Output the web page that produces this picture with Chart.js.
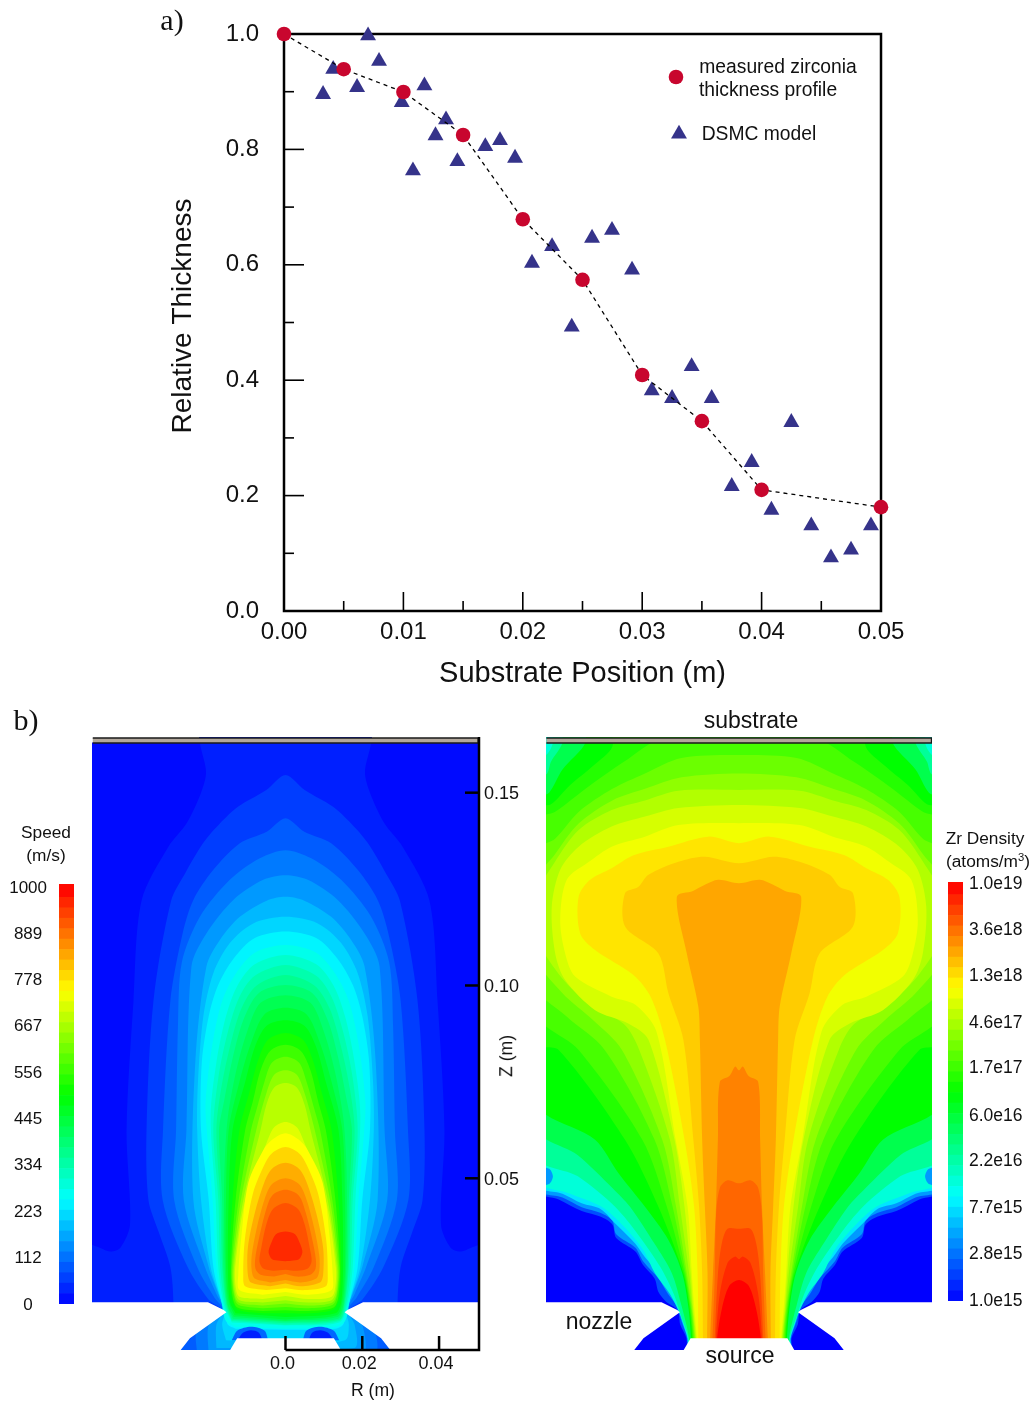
<!DOCTYPE html>
<html>
<head>
<meta charset="utf-8">
<title>Zirconia thickness profile</title>
<script src="https://cdn.jsdelivr.net/npm/chart.js@4/dist/chart.umd.js"></script>
<style>
  html, body { margin: 0; padding: 0; background: #fff; }
  #page { position: relative; width: 1036px; height: 1404px; overflow: hidden; font-family: "Liberation Sans", Arial, sans-serif; color: #111; }
  canvas { position: absolute; left: 0; top: 0; }
  #densityMap { filter: blur(0.5px); }
  .t { position: absolute; white-space: nowrap; line-height: 1; transform: translate(-50%, -50%); }
  .t sup { font-size: 0.65em; line-height: 0; }
</style>
</head>
<body>
<div id="page">
  <canvas id="speedMap" width="1036" height="1404"></canvas>
  <canvas id="densityMap" width="1036" height="1404"></canvas>
  <canvas id="speedBar" width="1036" height="1404"></canvas>
  <canvas id="densityBar" width="1036" height="1404"></canvas>
  <canvas id="profile" width="1036" height="700"></canvas>

  <div class="t" style="left:172px;top:20px;font:30px 'Liberation Serif',serif">a)</div>
  <div class="t" style="left:26px;top:720px;font:30px 'Liberation Serif',serif">b)</div>
  <div class="t" style="left:778px;top:67px;font-size:19.3px">measured zirconia</div>
  <div class="t" style="left:768px;top:90px;font-size:19.3px">thickness profile</div>
  <div class="t" style="left:759px;top:134px;font-size:19.3px">DSMC model</div>
  <div class="t" style="left:46px;top:833px;font-size:17.3px">Speed</div>
  <div class="t" style="left:46px;top:856px;font-size:17.3px">(m/s)</div>
  <div class="t" style="left:985px;top:839px;font-size:17.3px">Zr Density</div>
  <div class="t" style="left:988px;top:862px;font-size:17.3px">(atoms/m<sup>3</sup>)</div>
  <div class="t" style="left:751px;top:720px;font-size:23px">substrate</div>
  <div class="t" style="left:599px;top:1321px;font-size:23px">nozzle</div>
  <div class="t" style="left:740px;top:1355px;font-size:23px">source</div>
  <div class="t" style="left:373px;top:1391px;font-size:17.6px">R (m)</div>
  <div class="t" style="left:507px;top:1056px;font-size:17.6px;transform:translate(-50%,-50%) rotate(-90deg)">Z (m)</div>
</div>

<script>
// a) thickness profile
const measuredX = [0, 0.005, 0.01, 0.015, 0.02, 0.025, 0.03, 0.035, 0.04, 0.05];
const measuredY = [1.0, 0.939, 0.8995, 0.825, 0.679, 0.574, 0.409, 0.329, 0.21, 0.18];
const modelX = [0.00327, 0.00412, 0.00612, 0.00704, 0.00796, 0.00986, 0.01080, 0.01176, 0.01269, 0.01357, 0.01452, 0.01686, 0.01809, 0.01935,
  0.02077, 0.02245, 0.0241, 0.0258, 0.02747, 0.02915, 0.0308, 0.0325, 0.03414, 0.03582, 0.0375, 0.03917, 0.04082, 0.04249, 0.04416, 0.04581, 0.04749, 0.04916];
const modelY = [0.8955, 0.939, 0.9076, 0.997, 0.953, 0.8816, 0.763, 0.9105, 0.824, 0.8516, 0.779, 0.805, 0.8157, 0.785,
  0.603, 0.632, 0.4925, 0.6464, 0.66, 0.591, 0.382, 0.3686, 0.424, 0.3686, 0.2161, 0.2577, 0.175, 0.327, 0.148, 0.0925, 0.1057, 0.148];
const profileXTicks = [0, 0.005, 0.01, 0.015, 0.02, 0.025, 0.03, 0.035, 0.04, 0.045, 0.05];
const profileXLabels = ['0.00', '', '0.01', '', '0.02', '', '0.03', '', '0.04', '', '0.05'];
const profileYTicks = [0, 0.1, 0.2, 0.3, 0.4, 0.5, 0.6, 0.7, 0.8, 0.9, 1.0];
const profileYLabels = ['0.0', '', '0.2', '', '0.4', '', '0.6', '', '0.8', '', '1.0'];

// b) colour bars
const speedBarTicks = [0, 112, 223, 334, 445, 556, 667, 778, 889, 1000];
const speedBands = [0, 25, 50, 75, 100, 125, 150, 175, 200, 225, 250, 275, 300, 325, 350, 375, 400, 425, 450, 475, 500,
  525, 550, 575, 600, 625, 650, 675, 700, 725, 750, 775, 800, 825, 850, 875, 900, 925, 950, 975, 1007];
const densityBarTicks = [1e15, 2.8e15, 7.7e15, 2.2e16, 6.0e16, 1.7e17, 4.6e17, 1.3e18, 3.6e18, 1.0e19];
const densityBarLabels = ['1.0e15', '2.8e15', '7.7e15', '2.2e16', '6.0e16', '1.7e17', '4.6e17', '1.3e18', '3.6e18', '1.0e19'];
const densityBands = [15, 15.1, 15.2, 15.3, 15.4, 15.5, 15.6, 15.7, 15.8, 15.9, 16, 16.1, 16.2, 16.3, 16.4, 16.5, 16.6, 16.7, 16.8, 16.9, 17,
  17.1, 17.2, 17.3, 17.4, 17.5, 17.6, 17.7, 17.8, 17.9, 18, 18.1, 18.2, 18.3, 18.4, 18.5, 18.6, 18.7, 18.8, 18.9, 19.02];

// b) axes of the left map
const rTicks = [0, 0.02, 0.04];
const rLabels = ['0.0', '0.02', '0.04'];
const zTicks = [0.05, 0.10, 0.15];
const zLabels = ['0.05', '0.10', '0.15'];

// Contours are half outlines (R, z) in mm, low level first, mirrored about R = 0 when drawn
const speedLevels = [30, 60, 90, 120, 150, 180, 210, 240, 270, 300, 330, 360, 390, 420, 450, 480, 520, 560, 600, 640, 680, 720, 750, 790, 830, 860, 890, 920, 960];
const speedOutlines = [
  [[0,170],[22.3,170],[22.3,163],[20.7,155.4],[22,150],[25.8,142],[30.5,136],[37.5,122],[39.6,96],[41.4,62.5],[40.5,38],[43,32],[45.7,31],[49.2,32.3],[53,33],[53,4],[0,4]],
  [[0,154.6],[5,150.7],[12.3,146.4],[17.1,142],[21.4,137],[26.2,129],[29.8,122],[34.4,96],[36.2,62.5],[35.7,44.4],[33,36],[30,27],[29.2,18],[29.2,4],[0,4]],
  [[0,143.4],[4.9,139.9],[11.9,136.9],[18.8,130],[24,122.2],[26.8,113.5],[30,96],[31.9,62.5],[32,44.4],[25.5,27],[20,18.5],[17,16],[32,10],[32,4],[0,4]],
  [[0,135.1],[6.7,133],[14.5,127.4],[22.3,117.8],[27,106],[28,90],[28.5,62.5],[29,44.4],[23,27],[18.5,19],[16.5,16],[23,11],[23,4],[0,4]],
  [[0,128.6],[5.8,127.4],[13.6,122.2],[20.6,113.5],[24.5,104.9],[25.8,62.5],[26.5,44.4],[21,27],[18,20],[16.3,16],[20,12],[20,4],[0,4]],
  [[0,123],[4.9,122],[11.9,117.8],[17.1,111.8],[20.6,104.9],[23.5,80],[24,44.4],[20,27],[17.5,20],[16.1,16],[18,12],[18,6],[0,6]],
  [[0,117.8],[8.4,116.1],[14.5,111],[18.8,103.2],[21.4,92],[22.8,75],[23,62.5],[22,44.4],[19.5,27],[17,19],[15.8,15.5],[16.5,12],[15.5,8],[0,7]],
  [[0,114],[8,112.3],[13.5,107],[17.6,100],[20,92],[21.8,80],[22,62.5],[20,44.4],[18.8,27],[16.5,17.5],[15.7,15],[15,12],[13,11],[0,10.7]],
  [[0,110.5],[8,108.5],[13,103],[16.5,96],[19,85],[20.8,70],[20.5,62.5],[19,44.4],[18,27],[16.5,17],[15.5,13],[13,11.5],[0,11]],
  [[0,107.9],[8,105.5],[12.5,100],[15.5,92],[18,80],[19.5,66],[18.2,44.4],[17.5,27],[16,17],[14,12.6],[0,11.8]],
  [[0,105.3],[8,102.5],[12,97],[15,88],[17.5,76],[18.8,62.5],[17.5,44.4],[17,27],[15.7,17],[14,13],[0,12]],
  [[0,102.7],[7.5,100],[11.5,94],[14.5,84],[16.8,73],[18,62.5],[17,44.4],[16.5,27],[15.4,17],[14,13.3],[0,12.4]],
  [[0,100.1],[7,98],[11,91],[13.8,81],[16,70],[17.3,62.5],[16.5,44.4],[16.2,27],[15.2,17],[13.7,13.6],[0,12.8]],
  [[0,97.5],[6.5,95.5],[10,88],[12.8,78],[15,66],[15.8,55],[16,44.4],[15.8,27],[15,17],[13.5,14],[0,13]],
  [[0,94.2],[5.5,92.5],[9,85],[12,75],[14.8,62.5],[15.5,44.4],[15.5,27],[14.8,18],[13.3,14.5],[0,13.4]],
  [[0,91],[5,89.5],[8,84],[10.5,75],[13.8,62.5],[14.8,44.4],[15,27],[14.5,18],[13,15],[0,14]],
  [[0,87.7],[4.5,86],[7,81],[9.5,72],[12,62.5],[13.8,44.4],[14.5,27],[14,19],[12.5,16],[6,15],[0,15]],
  [[0,84.6],[4,83],[6.5,78],[8.5,70],[10.5,62.5],[13,44.4],[14.2,27],[13.8,19.5],[12.5,16.5],[6,15.6],[0,15.8]],
  [[0,81.5],[3.5,80],[5.5,75],[7.5,68],[9,62.5],[12.2,44.4],[14,27],[13.5,20],[12.3,17.2],[6,16.3],[0,16.6]],
  [[0,78],[3,76.8],[5,72],[7.5,63],[11.6,44.4],[13.7,27],[13.4,20.5],[12.2,17.8],[6,17],[0,17.5]],
  [[0,74.7],[3,73.5],[5,69],[6.5,62.5],[11,44.4],[13.4,27],[13.2,21],[12,18.4],[6,17.8],[0,18.4]],
  [[0,64.6],[3,63.2],[5,59],[10.5,44.4],[13.1,27],[13,22],[12,19.3],[6,18.7],[0,19.5]],
  [[0,61.7],[3.5,60],[5.8,57.3],[9.7,48.8],[11.5,34.8],[12.3,25],[12,21],[6,19.8],[0,20.5]],
  [[0,58.1],[3.5,56.5],[5.5,53.5],[8.5,46],[10.6,34],[11,25],[10.5,22],[5,21],[0,21.5]],
  [[0,54],[3.5,52.5],[5.5,49],[8,41],[9.8,32],[9.8,25],[9,23],[4,22],[0,22.7]],
  [[0,50],[3.5,48.5],[5.5,44.4],[7.5,37],[8.8,30],[8.8,26],[8,24],[4,23],[0,23.6]],
  [[0,47],[3.5,45.5],[5.3,41],[7,34],[7.9,29],[7.8,26.5],[6.5,25],[3,24.5],[0,25.2]],
  [[0,43.6],[3.3,42],[5,38],[6.3,32],[6.8,28.5],[5.8,26.6],[3,26],[0,26.3]],
  [[0,36.2],[2.5,35.5],[3.8,33],[4.4,30.8],[3.5,29],[1.5,28.6],[0,28.5]]
];
// dark pockets above the source, one each side
const speedPocketLevels = [100, 30];
const speedPockets = [
  [[4.5,8],[5.5,10.5],[9,11.5],[12.5,10.5],[14,8]],
  [[6,8],[7,10],[9,10.6],[11,10],[12.5,8]]
];

const densityLevels = [15.3, 15.6, 15.9, 16.15, 16.4, 16.7, 17, 17.14, 17.28, 17.42, 17.56, 17.7, 17.84, 17.95, 18.1, 18.2, 18.35, 18.49, 18.6, 18.72, 18.84, 19];
const densityOutlines = [
  [[0,170],[53,170],[53,47],[47,44.5],[41,41.5],[36,40],[33,38],[32,34.5],[27,31],[25,27.5],[22,24],[21,20.5],[19,18],[16,15.8],[15.3,12],[13.7,8.5],[13.7,4],[0,4]],
  [[0,170],[53,170],[53,47.5],[46,45],[41,42.5],[36,41],[33,39],[32,35.5],[27,32],[25,28.5],[21,24],[18.5,20],[16.3,17],[15,13],[13.5,8.5],[13.5,4],[0,4]],
  [[0,170],[53,170],[53,48.5],[46,46],[41,43.5],[36,42],[32,38],[27,33],[24.5,29.5],[20.5,25],[18,21],[16,17.5],[14.8,13],[13.4,8.5],[13.4,4],[0,4]],
  [[0,170],[53,170],[53,50],[44,46],[35.8,42.6],[30,37.5],[25,31.5],[21.9,25.4],[18,20],[15.5,15],[13.3,8.5],[13.3,4],[0,4]],
  [[0,170],[48.5,170],[48.5,163],[50,160],[53,158],[53,56],[42,50.5],[32.3,42.6],[26,35],[20.5,27],[17,20],[15,14],[13.2,8.5],[13.2,4],[0,4]],
  [[0,170],[46,170],[46,163],[49,158],[50,155],[53,153],[53,63.4],[42,56],[33,47.5],[28.4,42.6],[22,33],[17.5,25.4],[15,17],[13,8.5],[13,4],[0,4]],
  [[0,170],[40,170],[40,163],[46,156],[49.5,150],[53,148],[53,70],[37.5,60],[31.4,51.3],[24.5,42.6],[18.4,34],[14.8,25.4],[13.2,16.7],[12.5,8.5],[12.5,4],[0,4]],
  [[0,170],[33,170],[33,162],[38,157],[44,152],[49,147],[53,146],[53,85],[47,83.3],[29.7,60],[21,42.6],[14.5,25.4],[13,17],[12.2,8.5],[12.2,4],[0,4]],
  [[0,164],[20,164],[30,158],[40,151],[48,145],[53,143],[53,93],[41.8,83.3],[25.2,60],[18.8,42.6],[14.2,25.4],[12.8,17],[12,8.5],[12,4],[0,4]],
  [[0,159.8],[15,159],[24.5,155],[33,151],[41.8,145],[48,138],[53,135],[53,100],[45,92],[35,83.3],[22,60],[17.3,42.6],[13.9,25.4],[12.6,17],[11.8,8.5],[11.8,4],[0,4]],
  [[0,155],[15,154],[24.5,151],[33,148],[41.8,142],[48,134],[53,127],[53,107.5],[46,98],[38,91],[30.5,83.3],[20,60],[16.4,42.6],[13.6,25.4],[12.4,17],[11.6,8.5],[11.6,4],[0,4]],
  [[0,150.7],[15.8,150.5],[24.5,148],[33.2,145.5],[41.8,140.3],[48,132],[53,123],[53,113],[47,103],[40,96],[30,90],[26,83.3],[18,60],[15.4,42.6],[13,25.4],[12.2,17],[11.4,8.5],[11.4,4],[0,4]],
  [[0,146.8],[15.8,146],[24.5,143.8],[33.2,141.2],[41.8,136],[46.6,130],[48.8,120.4],[47.9,108.3],[45.3,101.4],[37.5,93.6],[29,90.2],[23.6,85.9],[16.8,60],[14.2,42.6],[12.6,25.4],[12,17],[11.2,8.5],[11.2,4],[0,4]],
  [[0,142.1],[15.8,141.6],[24.5,138.6],[33.2,136],[39.2,132],[44.9,127.4],[46.6,117],[45.3,108.3],[42.7,102.3],[33.2,97.1],[27,95],[21.5,88],[16.5,60],[13.4,42.6],[12.3,25.4],[11.7,17],[11,8.5],[11,4],[0,4]],
  [[0,136.9],[8,138.6],[18.4,136],[27.5,133.8],[33.2,130.4],[38.8,127.4],[41.8,123],[41.4,113.5],[37.5,109.2],[27.5,102.7],[23,97],[19.3,85.9],[14.2,60],[11.7,42.6],[10.8,25.4],[10.6,8.5],[10.6,4],[0,4]],
  [[0,131.7],[8.9,133.4],[15.8,132.1],[23.6,128.7],[26.2,125.6],[29.7,123.9],[29.7,115.3],[21,108.3],[18.4,98],[14.5,85.9],[11.9,60],[10.4,42.6],[9.6,25.4],[9.4,8.5],[9.4,4],[0,4]],
  [[0,126.5],[5.4,127.4],[8.9,126.1],[12,124.5],[16.2,123],[13.6,108.3],[10.6,94.5],[10.2,85.9],[9.6,60],[8.9,42.6],[8.2,25.4],[8.3,8.5],[8.3,4],[0,4]],
  [[0,78],[1,79],[2.5,76.5],[5,75],[5.5,60],[6,42.6],[6.8,25],[7.5,8.5],[7.5,4],[0,4]],
  [[0,48.7],[3,49.5],[5,47.5],[6,40],[6.3,25],[6.9,8.5],[6.9,4],[0,4]],
  [[0,36.9],[3,36.9],[4.5,33],[5.5,25],[6.3,8.5],[6.3,4],[0,4]],
  [[0,29],[1,29.7],[3,28],[5,20],[6,8.5],[6,4],[0,4]],
  [[0,23.6],[2.6,22],[4.5,16],[5.7,8.5],[5.7,4],[0,4]]
];
const densityPocketLevels = [15.6];
const densityPockets = [
  [[53,53],[49.5,52.5],[48.5,50.5],[49.5,48.5],[53,48]]
];

// Nozzle walls and substrate plate, same mm units
const wallOutline = [[-54,17.84],[-20.2,17.84],[-16.1,15.85],[-15.4,15.24],[-24.9,8.5],[-27.3,5.47],[-27.3,3],[-54,3]];
const sourceOutline = [[-14.7,5],[-12.6,8.5],[12.6,8.5],[14.7,5]];
const plateOutline = [[-50.2,162.9],[50.2,162.9],[50.2,164.2],[-50.2,164.2]];

function rainbow(t) {
  t = Math.min(1, Math.max(0, t));
  const c = v => Math.round(255 * v);
  if (t < 0.25) return `rgb(0,${c(t * 4)},255)`;
  if (t < 0.5) return `rgb(0,255,${c(1 - (t - 0.25) * 4)})`;
  if (t < 0.75) return `rgb(${c((t - 0.5) * 4)},255,0)`;
  return `rgb(255,${c(1 - (t - 0.75) * 4)},0)`;
}

function toPoints(pts) {
  return pts.map(p => ({ x: p[0] / 1000, y: p[1] / 1000 }));
}
// left side bottom-to-top, then right side, so the spline stays smooth over the apex
function mirrored(half) {
  const other = half.slice().reverse().filter(p => p[0] !== 0).map(p => [-p[0], p[1]]);
  return other.concat(half);
}
function shape(pts, color, extra) {
  return Object.assign({
    type: 'scatter', data: toPoints(pts), showLine: true, fill: 'shape', backgroundColor: color,
    borderWidth: 0, borderColor: color, pointRadius: 0, pointHoverRadius: 0, tension: 0.3
  }, extra || {});
}

function buildMap(levels, outlines, pocketLevels, pockets, colorOf, baseColor) {
  const sets = [shape([[-54, 3], [54, 3], [54, 163], [-54, 163]], baseColor, { tension: 0 })];
  outlines.forEach((half, i) => sets.push(shape(mirrored(half), colorOf(levels[i]))));
  pockets.forEach((half, i) => {
    sets.push(shape(half, colorOf(pocketLevels[i])));
    sets.push(shape(half.map(p => [-p[0], p[1]]), colorOf(pocketLevels[i])));
  });
  sets.push(shape(wallOutline, '#fff', { tension: 0 }));
  sets.push(shape(wallOutline.map(p => [-p[0], p[1]]), '#fff', { tension: 0 }));
  sets.push(shape(sourceOutline, '#fff', { tension: 0 }));
  sets.push(shape(plateOutline, '#b3a89c', { tension: 0, borderWidth: 1.6, borderColor: '#1a1a1a' }));
  sets.forEach((s, i) => { s.order = sets.length - i; });
  return sets;
}

const baseOptions = {
  responsive: false,
  animation: false,
  events: [],
  plugins: { legend: { display: false }, tooltip: { enabled: false } }
};
const noGrid = { display: false, drawTicks: false };
const inkColor = '#111';

// ---- a) profile
const inwardTicks = {
  id: 'inwardTicks',
  beforeDraw(chart) {
    // axis title sits a little above the middle of the axis in the original
    chart.scales.y.bottom = chart.chartArea.bottom - 13;
  },
  beforeDatasetsDraw(chart) {
    const { ctx, chartArea: a, scales: { x, y } } = chart;
    ctx.save();
    ctx.strokeStyle = '#000';
    ctx.lineWidth = 1.6;
    profileXTicks.forEach((v, i) => {
      const px = x.getPixelForValue(v), len = profileXLabels[i] ? 19 : 10;
      ctx.beginPath(); ctx.moveTo(px, a.bottom); ctx.lineTo(px, a.bottom - len); ctx.stroke();
    });
    profileYTicks.forEach((v, i) => {
      const py = y.getPixelForValue(v), len = profileYLabels[i] ? 20 : 10;
      ctx.beginPath(); ctx.moveTo(a.left, py); ctx.lineTo(a.left + len, py); ctx.stroke();
    });
    ctx.lineWidth = 2.5;
    ctx.strokeRect(a.left, a.top, a.right - a.left, a.bottom - a.top);
    ctx.restore();
  },
  afterDraw(chart) {
    // legend keys
    const { ctx } = chart;
    ctx.save();
    ctx.fillStyle = '#c8062e';
    Chart.helpers.drawPoint(ctx, { pointStyle: 'circle', radius: 7.3, rotation: 0, borderWidth: 0 }, 676, 77);
    ctx.fillStyle = '#35338a';
    Chart.helpers.drawPoint(ctx, { pointStyle: 'triangle', radius: 9.2, rotation: 0, borderWidth: 0 }, 679, 134);
    ctx.restore();
  }
};

new Chart(document.getElementById('profile'), {
  type: 'scatter',
  data: {
    datasets: [
      {
        label: 'measured zirconia thickness profile',
        data: measuredX.map((x, i) => ({ x, y: measuredY[i] })),
        showLine: true, borderColor: '#000', borderWidth: 1.3, borderDash: [4, 4],
        pointStyle: 'circle', pointRadius: 7.3, pointBackgroundColor: '#c8062e', pointBorderWidth: 0,
        clip: false, order: 1
      },
      {
        label: 'DSMC model',
        data: modelX.map((x, i) => ({ x, y: modelY[i] })),
        pointStyle: 'triangle', pointRadius: 9.2, pointBackgroundColor: '#35338a', pointBorderWidth: 0,
        clip: false, order: 2
      }
    ]
  },
  options: Object.assign({}, baseOptions, {
    layout: { padding: { left: 0, right: 155, top: 34, bottom: 0 } },
    scales: {
      x: {
        type: 'linear', min: 0, max: 0.05,
        grid: noGrid, border: { display: false },
        afterFit(s) { s.height = 89; },
        afterBuildTicks(s) { s.ticks = profileXTicks.map(value => ({ value })); },
        ticks: {
          autoSkip: false, maxRotation: 0, padding: 7, color: inkColor,
          font: { family: 'Liberation Sans', size: 24 },
          callback: (v, i) => profileXLabels[i]
        },
        title: { display: true, text: 'Substrate Position (m)', color: inkColor,
          font: { family: 'Liberation Sans', size: 29 }, padding: { top: 0, bottom: 9 } }
      },
      y: {
        type: 'linear', min: 0, max: 1,
        grid: noGrid, border: { display: false },
        afterFit(s) { s.width = 284; s.paddingTop = 0; s.paddingBottom = 0; },
        afterBuildTicks(s) { s.ticks = profileYTicks.map(value => ({ value })); },
        ticks: {
          autoSkip: false, padding: 25, color: inkColor,
          font: { family: 'Liberation Sans', size: 24 },
          callback: (v, i) => profileYLabels[i]
        },
        title: { display: true, text: 'Relative Thickness', color: inkColor,
          font: { family: 'Liberation Sans', size: 28 }, padding: { top: 166, bottom: 0 } }
      }
    }
  }),
  plugins: [inwardTicks]
});

// ---- b) left map: speed
const mapAxes = {
  id: 'mapAxes',
  afterDraw(chart) {
    const { ctx, chartArea: a, scales: { x, y } } = chart;
    ctx.save();
    ctx.strokeStyle = '#000';
    ctx.lineWidth = 2.5;
    ctx.beginPath();
    ctx.moveTo(a.right, a.top); ctx.lineTo(a.right, a.bottom); ctx.lineTo(x.getPixelForValue(0), a.bottom);
    ctx.stroke();
    rTicks.forEach(v => {
      const px = x.getPixelForValue(v);
      ctx.beginPath(); ctx.moveTo(px, a.bottom); ctx.lineTo(px, a.bottom - 14); ctx.stroke();
    });
    zTicks.forEach(v => {
      const py = y.getPixelForValue(v);
      ctx.beginPath(); ctx.moveTo(a.right, py); ctx.lineTo(a.right - 14, py); ctx.stroke();
    });
    ctx.restore();
  }
};

new Chart(document.getElementById('speedMap'), {
  type: 'scatter',
  data: { datasets: buildMap(speedLevels, speedOutlines, speedPocketLevels, speedPockets, l => rainbow(l / 1000), rainbow(0.01)) },
  options: Object.assign({}, baseOptions, {
    layout: { padding: { left: 92, right: 0, top: 737, bottom: 0 } },
    scales: {
      x: {
        type: 'linear', min: -0.0504, max: 0.0504,
        grid: noGrid, border: { display: false },
        afterFit(s) { s.height = 54; },
        afterBuildTicks(s) { s.ticks = rTicks.map(value => ({ value })); },
        ticks: { autoSkip: false, maxRotation: 0, padding: 3, labelOffset: -3, color: inkColor,
          font: { family: 'Liberation Sans', size: 18 }, callback: (v, i) => rLabels[i] }
      },
      y: {
        type: 'linear', position: 'right', min: 0.00547, max: 0.16444,
        grid: noGrid, border: { display: false },
        afterFit(s) { s.width = 557; },
        afterBuildTicks(s) { s.ticks = zTicks.map(value => ({ value })); },
        ticks: { autoSkip: false, padding: 5, labelOffset: 1.5, color: inkColor,
          font: { family: 'Liberation Sans', size: 18 }, callback: (v, i) => zLabels[i] }
      }
    }
  }),
  plugins: [mapAxes]
});

// ---- b) right map: Zr density (levels are log10 of atoms/m3)
new Chart(document.getElementById('densityMap'), {
  type: 'scatter',
  data: { datasets: buildMap(densityLevels, densityOutlines, densityPocketLevels, densityPockets, l => rainbow((l - 15) / 4), rainbow(0)) },
  options: Object.assign({}, baseOptions, {
    layout: { padding: { left: 546, right: 104, top: 737, bottom: 54 } },
    scales: {
      x: { type: 'linear', display: false, min: -0.0503, max: 0.0503 },
      y: { type: 'linear', display: false, min: 0.00547, max: 0.16444 }
    }
  })
});

// ---- b) colour bars
function bandSets(bands, toValue, colorOf) {
  return bands.slice(0, -1).map((b, i) => ({
    data: [[toValue(b), toValue(bands[i + 1])]],
    backgroundColor: colorOf((b + bands[i + 1]) / 2),
    borderWidth: 0, barPercentage: 1, categoryPercentage: 1, grouped: false
  }));
}

new Chart(document.getElementById('speedBar'), {
  type: 'bar',
  data: { labels: ['Speed'], datasets: bandSets(speedBands, v => v, l => rainbow(l / 1000)) },
  options: Object.assign({}, baseOptions, {
    layout: { padding: { left: 0, right: 962, top: 884, bottom: 100 } },
    scales: {
      x: { display: false },
      y: {
        type: 'linear', min: 0, max: 1007,
        grid: noGrid, border: { display: false },
        afterFit(s) { s.width = 59; },
        afterBuildTicks(s) { s.ticks = speedBarTicks.map(value => ({ value })); },
        ticks: { autoSkip: false, padding: 12, labelOffset: 1, crossAlign: 'center', color: inkColor,
          font: { family: 'Liberation Sans', size: 17 }, callback: v => String(v) }
      }
    }
  })
});

new Chart(document.getElementById('densityBar'), {
  type: 'bar',
  data: { labels: ['Zr Density'], datasets: bandSets(densityBands, v => Math.pow(10, v), l => rainbow((l - 15) / 4)) },
  options: Object.assign({}, baseOptions, {
    layout: { padding: { left: 948, right: 0, top: 882, bottom: 103 } },
    scales: {
      x: { display: false },
      y: {
        type: 'logarithmic', position: 'right', min: 1e15, max: 1.05e19,
        grid: noGrid, border: { display: false },
        afterFit(s) { s.width = 73; },
        afterBuildTicks(s) { s.ticks = densityBarTicks.map(value => ({ value })); },
        ticks: { autoSkip: false, padding: 6, color: inkColor,
          font: { family: 'Liberation Sans', size: 17.5 }, callback: (v, i) => densityBarLabels[i] }
      }
    }
  })
});
</script>
</body>
</html>
